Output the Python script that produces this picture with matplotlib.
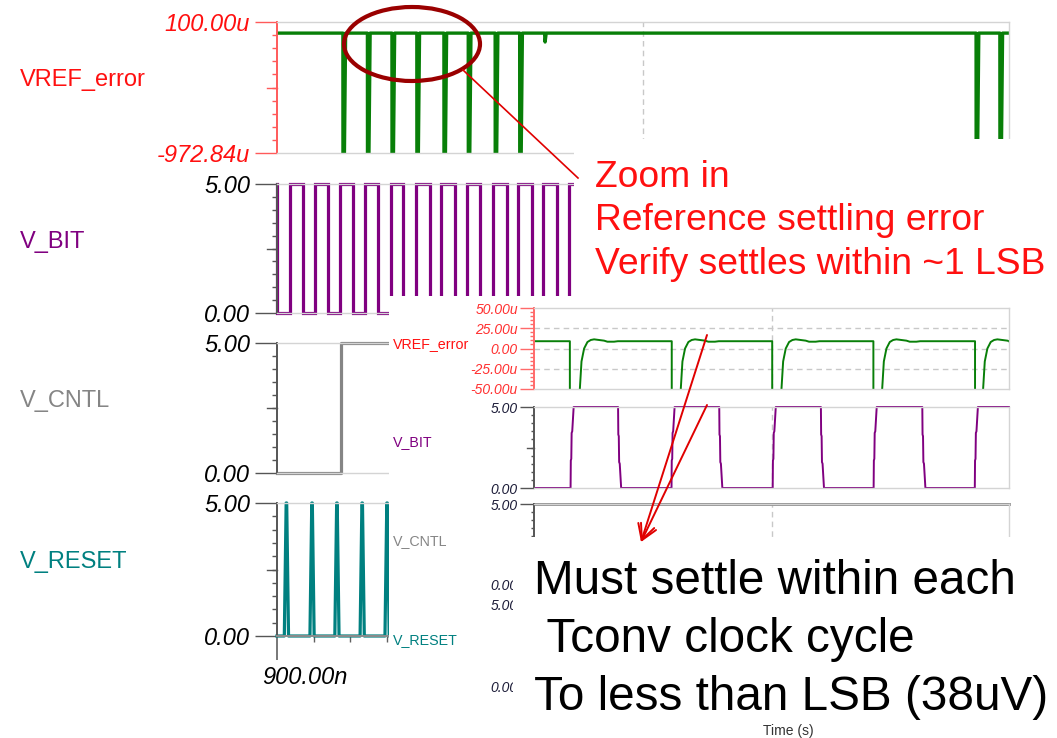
import numpy as np
import matplotlib
matplotlib.use('Agg')
import matplotlib.pyplot as plt
import matplotlib.transforms as mtransforms
from matplotlib.patches import Rectangle, Ellipse, FancyArrowPatch
from matplotlib.lines import Line2D
from matplotlib.ticker import MultipleLocator, FixedLocator

plt.rcParams['font.family'] = ['Liberation Sans', 'DejaVu Sans']

# ---------------- data: overview chart (time in ns) ----------------
main_t_range = [900.0, 1100.0]
main_time_ticks = [900.0]
main_time_tick_labels = ['900.00n']
main_signal_names = ['VREF_error', 'V_BIT', 'V_CNTL', 'V_RESET']

vref_range_u = [-972.84, 100.0]
vref_tick_labels = ['-972.84u', '100.00u']
vref_level_u = 9.0
vref_spike_times = [918.0, 924.7, 931.4, 938.2, 945.6, 952.25, 959.6, 966.3, 1091.0, 1097.5]
vref_spike_dt = [0.0, 0.05, 0.25, 0.75]
vref_spike_u = [9.0, -2500.0, -1500.0, 9.0]
vref_blip_times = [973.1]
vref_blip_dt = [0.0, 0.15, 0.45]
vref_blip_u = [9.0, -64.0, 9.0]

logic_range = [0.0, 5.0]
logic_ticks = [0.0, 5.0]
logic_tick_labels = ['0.00', '5.00']

vbit_start_v = 5.0
vbit_rise_times = [903.5, 910.4, 917.1, 924.0, 931.1, 938.1, 944.9, 951.8, 958.9, 965.8, 972.7, 979.8]
vbit_fall_times = [900.05, 907.0, 913.8, 920.7, 927.6, 934.4, 941.7, 948.6, 955.4, 962.8, 969.6, 976.4]
vbit_end_time = 982.0

vcntl_times = [900.0, 917.5, 917.5, 935.0]
vcntl_values = [0.0, 0.0, 5.0, 5.0]

vreset_spike_times = [902.5, 909.5, 916.3, 923.2, 930.0]
vreset_spike_dt = [-0.5, 0.0, 0.15, 0.65]
vreset_spike_v = [0.0, 5.0, 5.0, 0.0]

# ---------------- data: zoomed inset (time in ns) ----------------
inset_t_range = [0.0, 20.0]
inset_vref_range = [-50.0, 50.0]
inset_vref_ticks = [-50.0, -25.0, 0.0, 25.0, 50.0]
inset_vref_tick_labels = ['-50.00u', '-25.00u', '0.00', '25.00u', '50.00u']
inset_vref_level = 9.0
inset_vref_valley = -400.0
inset_vref_fall = [1.51, 5.80, 10.03, 14.29, 18.57]
inset_vref_rise = [1.93, 6.18, 10.42, 14.66, 18.91]
settle_dt = [0.0, 0.07, 0.18, 0.32, 0.46, 0.60, 0.81, 1.02, 1.16, 1.44, 1.60]
settle_u = [-50.0, -16.0, 0.0, 8.0, 10.5, 11.3, 10.5, 9.7, 8.4, 8.4, 9.0]

inset_vbit_rise = [1.54, 5.79, 10.05, 14.30, 18.56]
inset_vbit_fall = [3.54, 7.80, 12.08, 16.35]
edge_dt = [0.0, 0.01, 0.03, 0.045, 0.07, 0.13]
edge_up_v = [0.0, 1.7, 1.8, 3.4, 3.5, 5.0]
edge_dn_v = [5.0, 3.3, 3.2, 1.6, 1.5, 0.0]

inset_vcntl_times = [0.0, 20.0]
inset_vcntl_values = [5.0, 5.0]

zoom_note = ['Zoom in', 'Reference settling error', 'Verify settles within ~1 LSB']
settle_note = ['Must settle within each', ' Tconv clock cycle', 'To less than LSB (38uV)']
inset_xlabel = 'Time (s)'

# ---------------- colours ----------------
C_RED = '#ff1010'
C_GREEN = '#087f08'
C_PURPLE = '#800080'
C_GRAY = '#858585'
C_TEAL = '#008080'
C_FRAME = '#d4d4d4'
C_GRID = '#c8c8c8'

# ---------------- layout helpers ----------------
W, H = 1057, 738
fig = plt.figure(figsize=(W / 100, H / 100), dpi=100)
PT = 0.72


def frect(x0, y0, x1, y1):
    return [x0 / W, 1 - y1 / H, (x1 - x0) / W, (y1 - y0) / H]


def style(ax, xlim, ylim, yticks, ylabels, spine_c, lab_c, fs, maj, mnr, pad,
          minor_ticks, ax_w_px, mid=None, mid_len=0, grid_x=None, grid_y=()):
    ax.set_xlim(xlim)
    ax.set_ylim(ylim)
    ax.set_facecolor('white')
    for s in ('top', 'right', 'bottom'):
        ax.spines[s].set_color(C_FRAME)
        ax.spines[s].set_linewidth(1.0)
    ax.spines['left'].set_color(spine_c)
    ax.spines['left'].set_linewidth(1.4)
    ax.yaxis.set_major_locator(FixedLocator(yticks))
    ax.set_yticklabels(ylabels, fontsize=fs, style='italic', color=lab_c)
    ax.yaxis.set_minor_locator(FixedLocator(minor_ticks))
    ax.tick_params(axis='y', which='major', length=maj * PT, width=1.0,
                   color=spine_c, pad=pad * PT, direction='out')
    ax.tick_params(axis='y', which='minor', length=mnr * PT, width=1.0,
                   color=spine_c, direction='out')
    ax.tick_params(axis='x', which='both', bottom=False, labelbottom=False)
    if mid is not None:
        tr = mtransforms.blended_transform_factory(ax.transAxes, ax.transData)
        ax.add_line(Line2D([-mid_len / ax_w_px, 0], [mid, mid], transform=tr,
                           color=spine_c, lw=1.0, clip_on=False))
    if grid_x is not None:
        ax.axvline(grid_x, color=C_GRID, lw=1.0, ls=(0, (4, 3)), zorder=0.5)
    for gy in grid_y:
        ax.axhline(gy, color=C_GRID, lw=1.0, ls=(0, (4, 3)), zorder=0.5)


def build_events(events, t0, v0, t_end, v_end):
    t, v = [t0], [v0]
    for ts, dts, vs in sorted(events, key=lambda e: e[0]):
        for d, val in zip(dts, vs):
            t.append(ts + d)
            v.append(val)
    t.append(t_end)
    v.append(v_end)
    return t, v


# ---------------- overview chart ----------------
MX0, MX1 = 277, 1009
main_rows = [(22, 153), (184, 313), (343, 473), (503, 636)]
main_axes = []
for (y0, y1) in main_rows:
    a = fig.add_axes(frect(MX0, y0, MX1, y1))
    a.set_zorder(1)
    main_axes.append(a)
mw = MX1 - MX0
mid_t = (main_t_range[0] + main_t_range[1]) / 2

axv, axb, axc, axr = main_axes
style(axv, main_t_range, vref_range_u, vref_range_u, vref_tick_labels, '#ff5a5a', C_RED,
      17, 22, 5, 5, np.linspace(vref_range_u[0], vref_range_u[1], 11), mw,
      mid=(vref_range_u[0] + vref_range_u[1]) / 2, mid_len=10, grid_x=mid_t)
for a in (axb, axc, axr):
    style(a, main_t_range, logic_range, logic_ticks, logic_tick_labels, '#555555', 'black',
          17, 22, 5, 5, np.linspace(0, 5, 11), mw, mid=2.5, mid_len=10, grid_x=mid_t)

# VREF_error overview trace
ev = [(ts, vref_spike_dt, vref_spike_u) for ts in vref_spike_times]
ev += [(ts, vref_blip_dt, vref_blip_u) for ts in vref_blip_times]
t, v = build_events(ev, main_t_range[0], vref_level_u, main_t_range[1], vref_level_u)
axv.plot(t, v, color=C_GREEN, lw=2.4, solid_joinstyle='round')

# V_BIT overview trace
ev = [(ts, [0, 0], [0.0, 5.0]) for ts in vbit_rise_times]
ev += [(ts, [0, 0], [5.0, 0.0]) for ts in vbit_fall_times]
t, v = build_events(ev, main_t_range[0], vbit_start_v, vbit_end_time, 5.0)
axb.plot(t, v, color=C_PURPLE, lw=2.3, clip_on=False, solid_joinstyle='miter')

# V_CNTL overview trace
axc.plot(vcntl_times, vcntl_values, color=C_GRAY, lw=2.3, clip_on=False)

# V_RESET overview trace
ev = [(ts, vreset_spike_dt, vreset_spike_v) for ts in vreset_spike_times]
t, v = build_events(ev, main_t_range[0], 0.0, vreset_spike_times[-1] + 1.0, 0.0)
axr.plot(t, v, color=C_TEAL, lw=2.3, clip_on=False)

# time axis of overview
axr.spines['bottom'].set_color('#8c8c8c')
axr.spines['bottom'].set_linewidth(1.4)
axr.tick_params(axis='x', which='both', bottom=True, labelbottom=True)
axr.xaxis.set_major_locator(FixedLocator(main_time_ticks))
axr.set_xticklabels(main_time_tick_labels, fontsize=17, style='italic')
axr.xaxis.set_minor_locator(MultipleLocator(10))
axr.tick_params(axis='x', which='major', length=24 * PT, width=1.2, color='#606060', pad=4)
axr.tick_params(axis='x', which='minor', length=6 * PT, width=1.0, color='#606060')
for lbl in axr.get_xticklabels():
    lbl.set_transform(lbl.get_transform() + mtransforms.ScaledTranslation(0.28, 0, fig.dpi_scale_trans))

# overview row labels
main_label_colors = [C_RED, C_PURPLE, C_GRAY, C_TEAL]
main_label_baselines = [86, 248, 406.5, 568]
for name, col, yb in zip(main_signal_names, main_label_colors, main_label_baselines):
    fig.text(20 / W, 1 - yb / H, name, color=col, fontsize=17, va='baseline', ha='left', zorder=1.5)

# ---------------- inset (zoomed screenshot) ----------------
fig.add_artist(Rectangle((389 / W, 0), (W - 389) / W, (H - 296) / H, transform=fig.transFigure,
                         facecolor='white', edgecolor='none', zorder=2))
IX0, IX1 = 534, 1009
iw = IX1 - IX0
inset_rows = [(308, 389), (407, 488), (504, 585), (604, 686)]
inset_axes = []
for (y0, y1) in inset_rows:
    a = fig.add_axes(frect(IX0, y0, IX1, y1))
    a.set_zorder(3)
    inset_axes.append(a)
iv, ib, ic, ir = inset_axes
imid = (inset_t_range[0] + inset_t_range[1]) / 2
style(iv, inset_t_range, inset_vref_range, inset_vref_ticks, inset_vref_tick_labels, '#ff6a6a',
      '#ff3030', 10, 14, 4, 2, np.arange(-50, 51, 5), iw, grid_x=imid, grid_y=(25, 0, -25))
for a in (ib, ic, ir):
    style(a, inset_t_range, logic_range, logic_ticks, logic_tick_labels, '#555555', '#1c1c38',
          10, 14, 3.5, 2, np.linspace(0, 5, 11), iw, mid=2.5, mid_len=7, grid_x=imid)

# inset VREF_error trace
t, v = [inset_t_range[0]], [inset_vref_level]
for f, r in zip(inset_vref_fall, inset_vref_rise):
    t += [f, f, r]
    v += [inset_vref_level, inset_vref_valley, inset_vref_valley]
    t += [r + d for d in settle_dt]
    v += settle_u
t.append(inset_t_range[1])
v.append(inset_vref_level)
iv.plot(t, v, color=C_GREEN, lw=1.4)

# inset V_BIT trace
ev = [(ts, edge_dt, edge_up_v) for ts in inset_vbit_rise]
ev += [(ts, edge_dt, edge_dn_v) for ts in inset_vbit_fall]
t, v = build_events(ev, inset_t_range[0], 0.0, inset_t_range[1], 5.0)
ib.plot(t, v, color=C_PURPLE, lw=1.4, clip_on=False)

# inset V_CNTL trace
ic.plot(inset_vcntl_times, inset_vcntl_values, color=C_GRAY, lw=2.0, clip_on=False)

inset_label_baselines = [348, 446, 545, 644]
for name, col, yb in zip(main_signal_names, main_label_colors, inset_label_baselines):
    fig.text(393 / W, 1 - yb / H, name, color=col, fontsize=10.3, va='baseline', ha='left', zorder=3.5)
fig.text(788 / W, 1 - 735 / H, inset_xlabel, color='#333333', fontsize=10, va='baseline', ha='center',
         zorder=3.5)

# ---------------- annotation boxes ----------------
fig.add_artist(Rectangle((574 / W, 1 - 297 / H), (W - 574) / W, (297 - 139) / H,
                         transform=fig.transFigure, facecolor='white', edgecolor='none', zorder=4))
fig.add_artist(Rectangle((513 / W, 1 - 722 / H), (W - 513) / W, (722 - 537) / H,
                         transform=fig.transFigure, facecolor='white', edgecolor='none', zorder=4))

for line, yb in zip(zoom_note, [187, 230.5, 274]):
    fig.text(595 / W, 1 - yb / H, line, color=C_RED, fontsize=26.8, va='baseline', ha='left', zorder=5)
for line, yb in zip(settle_note, [594, 652, 710]):
    fig.text(534 / W, 1 - yb / H, line, color='black', fontsize=34.3, va='baseline', ha='left', zorder=5)

fig.add_artist(Ellipse((412 / W, 1 - 44 / H), 136 / W, 74 / H, transform=fig.transFigure,
                       facecolor='none', edgecolor='#9a0000', lw=3.0, zorder=5))
fig.add_artist(Line2D([463 / W, 578 / W], [1 - 70 / H, 1 - 178 / H], transform=fig.transFigure,
                      color='#e00000', lw=1.2, zorder=5))
for (sx, sy) in [(707, 335), (707, 405)]:
    fig.add_artist(FancyArrowPatch(
        (sx / W, 1 - sy / H), (641 / W, 1 - 542 / H), transform=fig.transFigure,
        arrowstyle='->,head_length=1.1,head_width=0.6', mutation_scale=10,
        color='#e00000', lw=1.4, zorder=5, shrinkA=0, shrinkB=0))

fig.savefig('out.png', dpi=100, facecolor='white')
